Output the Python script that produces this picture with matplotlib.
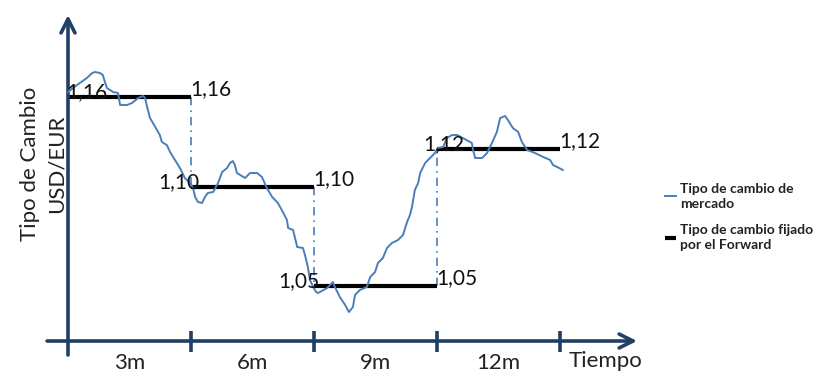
import matplotlib
matplotlib.use("Agg")
import matplotlib.pyplot as plt

# ------------------------------------------------------
# Data (time in months, level = height of the rate in the sketch)
# ------------------------------------------------------
mkt_t = [0.0, 0.22, 0.46, 0.59, 0.66, 0.78, 0.85, 0.90, 0.95, 1.10, 1.22, 1.27, 1.44, 1.56,
         1.71, 1.83, 1.88, 1.93, 2.00, 2.17, 2.24, 2.29, 2.41, 2.49, 2.61, 2.73, 2.85, 2.98,
         3.05, 3.10, 3.17, 3.27, 3.34, 3.41, 3.54, 3.66, 3.76, 3.88, 3.95, 4.02, 4.07, 4.12,
         4.32, 4.44, 4.61, 4.73, 4.85, 4.98, 5.12, 5.24, 5.34, 5.37, 5.49, 5.59, 5.73, 5.78,
         5.85, 5.90, 5.98, 6.05, 6.10, 6.32, 6.44, 6.46, 6.51, 6.63, 6.76, 6.85, 6.95, 7.00,
         7.12, 7.29, 7.37, 7.49, 7.56, 7.68, 7.78, 7.90, 8.05, 8.17, 8.27, 8.34, 8.39, 8.46,
         8.54, 8.59, 8.71, 8.83, 8.95, 9.02, 9.15, 9.24, 9.37, 9.49, 9.63, 9.85, 9.88, 9.93,
         10.10, 10.22, 10.34, 10.46, 10.54, 10.66, 10.73, 10.85, 10.98, 11.07, 11.20, 11.39,
         11.59, 11.76, 11.83, 11.93, 12.07]
mkt_level = [249, 256, 263, 268, 269, 268, 266, 259, 253, 249, 248, 236, 236, 238,
             243, 245, 243, 234, 223, 211, 206, 199, 196, 189, 181, 173, 163, 158,
             153, 144, 139, 138, 144, 148, 149, 158, 169, 173, 178, 180, 176, 168,
             163, 168, 168, 164, 153, 144, 138, 129, 121, 113, 111, 94, 93, 86,
             74, 61, 54, 49, 48, 53, 58, 59, 54, 44, 36, 29, 34, 46,
             51, 54, 64, 69, 78, 83, 93, 98, 101, 106, 119, 126, 134, 151,
             158, 168, 178, 183, 188, 193, 194, 203, 206, 206, 203, 198, 191, 183,
             183, 188, 198, 209, 223, 225, 221, 213, 209, 199, 191, 188,
             184, 181, 176, 174, 171]

fwd_start = [0, 3, 6, 9]
fwd_end = [3, 6, 9, 12]
fwd_level = [244, 154, 55, 192]
fwd_label = ["1,16", "1,10", "1,05", "1,12"]

tick_months = [0, 3, 6, 9, 12]
period_labels = ["3m", "6m", "9m", "12m"]

AXIS_C = "#203F66"
MKT_C = "#4A7EBB"
TXT_C = "#222222"

# ------------------------------------------------------
# Figure: 815 x 374 px, 41 px per month, 1 level unit per px
# ------------------------------------------------------
fig = plt.figure(figsize=(8.15, 3.74), dpi=100)
ax = fig.add_axes([0, 0, 1, 1])
ax.set_xlim(-68 / 41, (815 - 68) / 41)
ax.set_ylim(-33, 341)
ax.axis("off")
plt.rcParams["font.family"] = ["Lato", "DejaVu Sans"]

# axes arrows
arrow = dict(arrowstyle="->,head_length=1.0,head_width=0.5",
             color=AXIS_C, lw=2.6, shrinkA=0, shrinkB=0)
ax.annotate("", xy=(0, 326), xytext=(0, -14), arrowprops=arrow)
ax.annotate("", xy=(13.88, 0), xytext=(-0.51, 0), arrowprops=arrow)
for m in tick_months[1:]:
    ax.plot([m, m], [-11, 10], color=AXIS_C, lw=2.6, solid_capstyle="butt")

for i, lab in enumerate(period_labels):
    ax.text((tick_months[i] + tick_months[i + 1]) / 2, -22, lab, ha="center",
            va="center", fontsize=16, color=TXT_C)
ax.text(12.22, -20, "Tiempo", ha="left", va="center", fontsize=16, color=TXT_C)

ax.text(-0.93, 177, "Tipo de Cambio", rotation=90, ha="center",
        va="center", fontsize=16, color=TXT_C)
ax.text(-0.27, 177, "USD/EUR", rotation=90, ha="center", va="center",
        fontsize=16, color=TXT_C)

# market rate
ax.plot(mkt_t, mkt_level, color=MKT_C, lw=1.4, label="Tipo de cambio de\nmercado", zorder=3)

# dash-dot links between forward levels
for i in range(len(fwd_level) - 1):
    ax.plot([fwd_end[i], fwd_end[i]], [fwd_level[i], fwd_level[i + 1]],
            color=MKT_C, lw=1.2, ls=(0, (5, 3, 1, 3)), zorder=2)

# forward levels
left_off = [-0.05, -0.80, -0.88, -0.34]
for i in range(len(fwd_level)):
    ax.plot([fwd_start[i], fwd_end[i]], [fwd_level[i], fwd_level[i]], color="black",
            lw=3, solid_capstyle="butt", zorder=2,
            label="Tipo de cambio fijado\npor el Forward" if i == 0 else None)
    ax.text(fwd_start[i] + left_off[i], fwd_level[i] + 5, fwd_label[i], ha="left",
            va="center", fontsize=15, color="#111111", zorder=4)
    ax.text(fwd_end[i] - 0.02, fwd_level[i] + 8, fwd_label[i], ha="left",
            va="center", fontsize=15, color="#111111", zorder=4)

leg = ax.legend(loc="upper left", bbox_to_anchor=(652 / 815, 1 - 170 / 374),
                frameon=False, handlelength=0.8, handletextpad=0.35, labelspacing=1.0,
                prop={"size": 10, "weight": "bold"})
for t in leg.get_texts():
    t.set_color(TXT_C)
    t.set_linespacing(1.35)

fig.savefig("out.png", dpi=100)
